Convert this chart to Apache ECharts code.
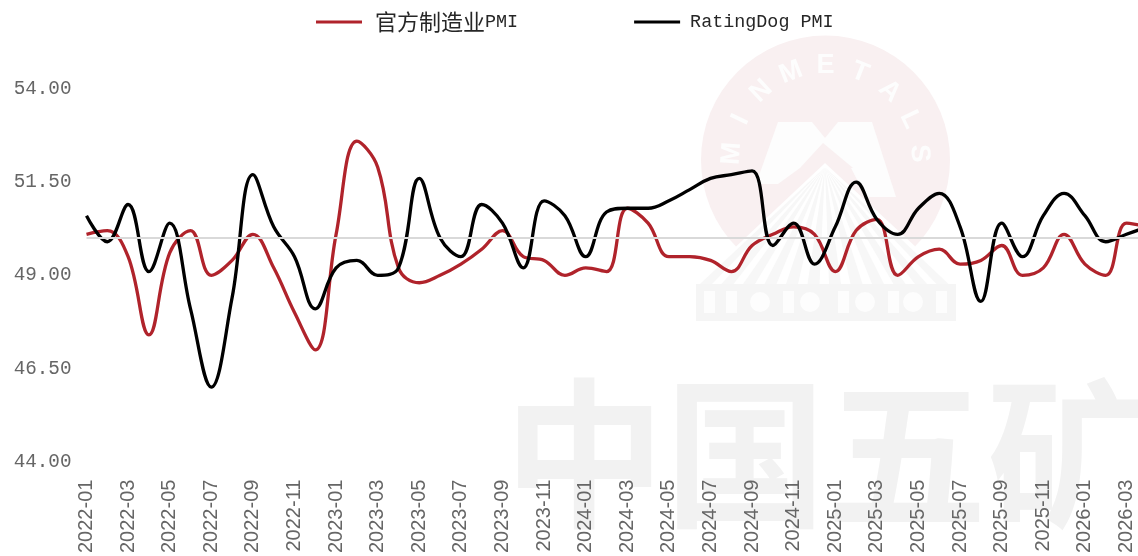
<!DOCTYPE html>
<html lang="en">

<head>
  <meta charset="UTF-8">
  <script src="https://cdn.jsdelivr.net/npm/echarts@6/dist/echarts.min.js"></script>
  <style>
    body,
    html {
      margin: 0;
      padding: 0;
      width: 100%;
      height: 100%;
      background: #fff;
      overflow: hidden;
    }

    /* wider than the window: the last month runs off the right edge */
    #main {
      width: 1160px;
      height: 556px;
    }
  </style>
</head>

<body>
  <div id="main"></div>
  <script type="text/javascript">
    const months = [
      '2022-01', '2022-02', '2022-03', '2022-04', '2022-05', '2022-06', '2022-07', '2022-08', '2022-09', '2022-10', '2022-11', '2022-12',
      '2023-01', '2023-02', '2023-03', '2023-04', '2023-05', '2023-06', '2023-07', '2023-08', '2023-09', '2023-10', '2023-11', '2023-12',
      '2024-01', '2024-02', '2024-03', '2024-04', '2024-05', '2024-06', '2024-07', '2024-08', '2024-09', '2024-10', '2024-11', '2024-12',
      '2025-01', '2025-02', '2025-03', '2025-04', '2025-05', '2025-06', '2025-07', '2025-08', '2025-09', '2025-10', '2025-11', '2025-12',
      '2026-01', '2026-02', '2026-03', '2026-04'
    ];
    const officialPmi = [
      50.1, 50.2, 49.5, 47.4, 49.6, 50.2, 49.0, 49.4, 50.1, 49.2, 48.0, 47.0,
      50.1, 52.6, 51.9, 49.2, 48.8, 49.0, 49.3, 49.7, 50.2, 49.5, 49.4, 49.0,
      49.2, 49.1, 50.8, 50.4, 49.5, 49.5, 49.4, 49.1, 49.8, 50.1, 50.3, 50.1,
      49.1, 50.2, 50.5, 49.0, 49.5, 49.7, 49.3, 49.4, 49.8, 49.0, 49.2, 50.1,
      49.3, 49.0, 50.4, 50.3
    ];
    const ratingDogPmi = [
      50.6, 49.9, 50.9, 49.1, 50.4, 48.1, 46.0, 48.4, 51.7, 50.3, 49.5, 48.1,
      49.2, 49.4, 49.0, 49.2, 51.6, 50.0, 49.5, 50.9, 50.4, 49.2, 51.0, 50.6,
      49.5, 50.7, 50.8, 50.8, 51.0, 51.3, 51.6, 51.7, 51.8, 49.8, 50.4, 49.3,
      50.3, 51.5, 50.5, 50.1, 50.8, 51.2, 50.3, 48.3, 50.4, 49.5, 50.6, 51.2,
      50.6, 49.9, 50.1, 50.3
    ];
    const yMin = 44;
    const yMax = 54;
    const yStep = 2.5;
    const refLevel = 50;
    const officialName = '官方制造业PMI';
    const ratingDogName = 'RatingDog PMI';
    const logoLetters = 'MINMETALS'.split('');

    // watermark behind the chart: company logo and big name
    function logoElements() {
      const cx = 825.5, cy = 160, r = 124.5;
      const els = [];
      els.push({ type: 'circle', shape: { cx: cx, cy: cy, r: r }, style: { fill: '#f9f0f1' }, z: 0 });
      logoLetters.forEach(function (ch, i) {
        const a = (-86 + i * 21.5) * Math.PI / 180;
        els.push({
          type: 'text', x: cx + 94 * Math.sin(a), y: cy - 94 * Math.cos(a), rotation: -a, z: 1,
          style: { text: ch, fill: '#fdfdfd', font: 'bold 27px "Liberation Sans"', align: 'center', verticalAlign: 'middle' }
        });
      });
      // M shape, pink inside it, then the rays
      els.push({
        type: 'polygon', z: 1,
        shape: { points: [[778, 122], [812, 122], [825, 138], [838, 122], [872, 122], [896, 197], [866, 197], [851, 168], [800, 168], [778, 184], [756, 184]] },
        style: { fill: '#fdfdfd' }
      });
      els.push({
        type: 'polygon', z: 1,
        shape: { points: [[823, 143], [853, 168], [800, 168]] },
        style: { fill: '#f9f0f1' }
      });
      els.push({
        type: 'polygon', z: 1,
        shape: { points: [[825, 163], [956, 284], [696, 284]] },
        style: { fill: '#ffffff' }
      });
      for (let i = 0; i < 12; i++) {
        const xl = 700 + i * 21.5;
        els.push({
          type: 'polygon', z: 2,
          shape: { points: [[825, 167], [xl + 12, 284], [xl, 284]] },
          style: { fill: '#f7f7f7' }
        });
      }
      els.push({ type: 'rect', z: 2, shape: { x: 696, y: 284, width: 260, height: 37 }, style: { fill: '#f5f5f5' } });
      [760, 810, 865, 913].forEach(function (x) {
        els.push({ type: 'circle', z: 3, shape: { cx: x, cy: 302, r: 10 }, style: { fill: '#fdfdfd' } });
      });
      [704, 726, 783, 838, 888, 936].forEach(function (x) {
        els.push({ type: 'rect', z: 3, shape: { x: x, y: 291, width: 11, height: 22 }, style: { fill: '#fdfdfd' } });
      });
      els.push({
        type: 'text', x: 504, y: 534, z: 0,
        style: { text: '中国五矿', fill: '#f2f2f2', font: 'bold 161px "Noto Sans CJK SC"', verticalAlign: 'bottom' }
      });
      return els;
    }

    var myChart = echarts.init(document.getElementById('main'));

    const option = {
      backgroundColor: '#fff',
      animation: false,
      graphic: { elements: logoElements() },
      legend: {
        top: 11,
        left: 316,
        padding: 0,
        itemWidth: 46,
        itemHeight: 3,
        itemGap: 116,
        icon: 'rect',
        data: [officialName, ratingDogName],
        formatter: function (name) {
          return name === officialName ? '{cjk|官方制造业}{mono|PMI}' : '{mono2|' + name + '}';
        },
        textStyle: {
          rich: {
            cjk: { fontFamily: '"Noto Sans CJK SC"', fontSize: 22, color: '#262626', padding: [0, 0, 0, 8] },
            mono: { fontFamily: '"Liberation Mono"', fontSize: 18.4, color: '#262626' },
            mono2: { fontFamily: '"Liberation Mono"', fontSize: 18.4, color: '#262626', padding: [0, 0, 0, 5] }
          }
        }
      },
      grid: { left: 86.5, top: 89, height: 373, width: 1060.8 },
      xAxis: {
        type: 'category',
        data: months,
        boundaryGap: false,
        axisLine: { show: false },
        axisTick: { show: false },
        axisLabel: {
          interval: 1,
          rotate: 90,
          margin: 18,
          color: '#666',
          fontSize: 20,
          fontFamily: '"Liberation Sans"'
        }
      },
      yAxis: {
        type: 'value',
        min: yMin,
        max: yMax,
        interval: yStep,
        axisLine: { show: false },
        axisTick: { show: false },
        splitLine: { show: false },
        axisLabel: {
          margin: 15,
          color: '#666',
          fontSize: 19.3,
          fontFamily: '"Liberation Mono"',
          formatter: function (v) { return v.toFixed(2); }
        }
      },
      series: [
        {
          name: officialName,
          type: 'line',
          data: officialPmi,
          smooth: 0.4,
          showSymbol: false,
          lineStyle: { width: 3.3, color: '#b0232b' },
          itemStyle: { color: '#b0232b' },
          markLine: {
            silent: true,
            symbol: 'none',
            label: { show: false },
            lineStyle: { type: 'solid', width: 2, color: '#d9d9d9' },
            data: [{ yAxis: refLevel }]
          },
          z: 3
        },
        {
          name: ratingDogName,
          type: 'line',
          data: ratingDogPmi,
          smooth: 0.4,
          showSymbol: false,
          lineStyle: { width: 3.3, color: '#000' },
          itemStyle: { color: '#000' },
          z: 4
        }
      ]
    };

    myChart.setOption(option);

    window.addEventListener('resize', function () {
      myChart.resize();
    });
  </script>
</body>

</html>
